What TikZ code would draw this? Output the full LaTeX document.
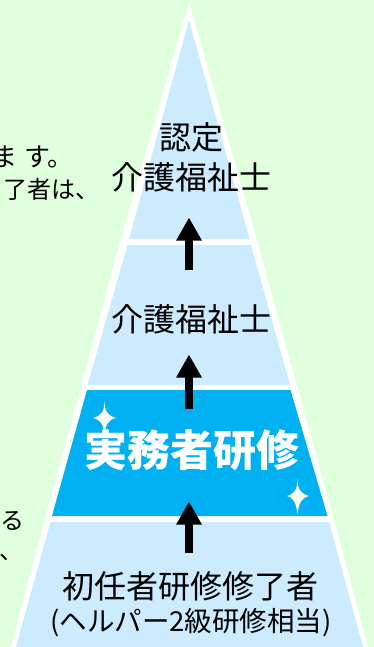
\documentclass[tikz,border=0pt]{standalone}
\usepackage{fontspec}
\setmainfont{Noto Sans CJK JP}
\usetikzlibrary{arrows.meta}
\definecolor{bgc}{HTML}{E0FFDC}
\definecolor{tier}{HTML}{CCEBFF}
\definecolor{hot}{HTML}{00B0F0}
\definecolor{spark}{HTML}{FBFBEF}
\tikzset{
  lbl/.style={inner sep=0pt,font=\fontsize{32}{32}\selectfont,text=black},
  sub/.style={inner sep=0pt,font=\fontsize{27.5}{27.5}\selectfont,text=black},
  side/.style={inner sep=0pt,font=\fontsize{24}{24}\selectfont,text=black,anchor=east,text height=18pt,text depth=6pt},
  sidebig/.style={side,font=\fontsize{26}{26}\selectfont},
  hotlbl/.style={inner sep=0pt,font=\fontsize{43}{43}\selectfont\bfseries,text=white},
  up/.style={line width=8pt,-{Triangle[width=24pt,length=23pt]},black,shorten >=-0.5pt},
  sparkle/.style={fill=spark,draw=none}
}
\begin{document}
\begin{tikzpicture}[x=1pt,y=-1pt]
\useasboundingbox (0,0) rectangle (374,647);
\clip (0,0) rectangle (374,647);
\fill[bgc] (0,0) rectangle (374,647);
% white pyramid
\fill[white] (189,2) -- (256.7,239) -- (296.7,385) -- (333,516) -- (368,647) -- (11,647) -- (45.7,516) -- (81.7,385) -- (120.7,239) -- cycle;
% tiers
\fill[tier] (189,20) -- (249.5,239) -- (129,239) -- cycle;
\fill[tier] (251,245) -- (290,385) -- (87.5,385) -- (127.5,245) -- cycle;
\fill[hot] (290.5,390) -- (327.5,516) -- (52,516) -- (87,390) -- cycle;
\fill[tier] (329,522) -- (363,647) -- (16,647) -- (50.5,522) -- cycle;
% side text, cut by the left edge
\node[sidebig] (s1) at (74,161) {ま\kern7ptす。};
\node[side] (s2) at (100,192) {了者は、};
\node[side] (s3) at (25,523) {る};
\node[side] (s4) at (24,553) {、};
% labels
\node[lbl] (a1) at (191,137) {認定};
\node[lbl] (a2) at (191.5,177) {介護福祉士};
\node[lbl] (b) at (191.5,319) {介護福祉士};
\node[hotlbl] (c) at (191.5,450) {実務者研修};
\node[lbl] (d1) at (190,586) {初任者研修修了者};
\node[sub] (d2) at (191,623) {(ヘルパー2級研修相当)};
% arrows
\coordinate (p1) at (189,270); \coordinate (q1) at (189,218);
\coordinate (p2) at (189,409); \coordinate (q2) at (189,355);
\coordinate (p3) at (189,553); \coordinate (q3) at (189,502);
\draw[up] (p1) -- (q1);
\draw[up] (p2) -- (q2);
\draw[up] (p3) -- (q3);
% sparkles
\fill[sparkle] (104.5,401) .. controls (105,412) and (107,415) .. (116,418) .. controls (108,420) and (106,424) .. (104.5,434) .. controls (103,424) and (101,420) .. (93,418) .. controls (102,415) and (104,412) .. (104.5,401) -- cycle;
\fill[sparkle] (297.5,479) .. controls (298,490) and (300,493) .. (309,496) .. controls (301,498) and (299,503) .. (297.5,514) .. controls (296,503) and (294,498) .. (287,496) .. controls (295,493) and (297,490) .. (297.5,479) -- cycle;
\end{tikzpicture}
\end{document}
